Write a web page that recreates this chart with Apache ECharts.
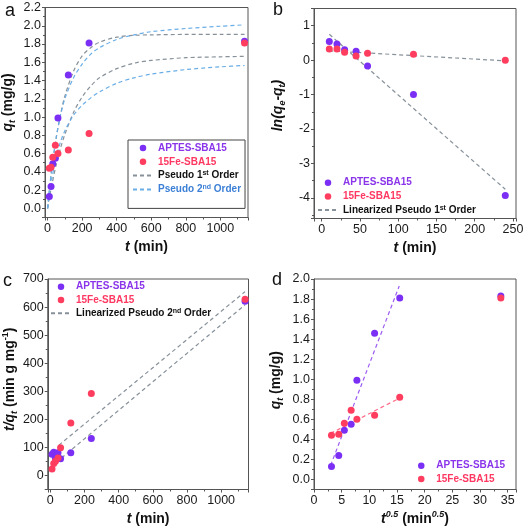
<!DOCTYPE html>
<html><head><meta charset="utf-8">
<script src="https://cdn.jsdelivr.net/npm/echarts@6/dist/echarts.min.js"></script>
<style>html,body{margin:0;padding:0;background:#fff}#c{width:530px;height:528px}</style>
</head><body><div id="c"></div>
<script>
// ---------- data ----------
const timeMin = [10, 20, 30, 45, 60, 120, 240, 1140];
const qtAPTES = [0.13, 0.24, 0.49, 0.55, 0.99, 1.46, 1.81, 1.83];
const qtFe = [0.44, 0.45, 0.56, 0.69, 0.60, 0.64, 0.82, 1.81];

const fitTime = [0, 10, 25, 50, 75, 100, 150, 200, 250, 300, 400, 500, 600, 800, 1000, 1140];
const pfoAPTES = [0, 0.19, 0.44, 0.77, 1.03, 1.23, 1.50, 1.67, 1.76, 1.82, 1.875, 1.895, 1.90, 1.905, 1.905, 1.905];
const psoAPTES = [0, 0.20, 0.45, 0.78, 1.02, 1.20, 1.43, 1.58, 1.69, 1.76, 1.85, 1.90, 1.935, 1.97, 1.995, 2.01];
const pfoFe = [0, 0.11, 0.26, 0.48, 0.66, 0.81, 1.05, 1.22, 1.34, 1.43, 1.53, 1.59, 1.62, 1.65, 1.66, 1.665];
const psoFe = [0, 0.15, 0.33, 0.56, 0.73, 0.85, 1.02, 1.13, 1.21, 1.275, 1.37, 1.43, 1.47, 1.52, 1.55, 1.565];

const lnTime = [10, 20, 30, 45, 60, 120, 240];
const lnAPTES = [0.54, 0.47, 0.30, 0.26, -0.17, -1.00, -3.93];
const lnFe = [0.32, 0.32, 0.23, 0.12, 0.20, 0.17, 0.00];
const lnFitTime = [10, 240];
const lnFitAPTES = [0.75, -3.75];
const lnFitFe = [0.27, -0.02];

const tqAPTES = [76, 83, 61, 81, 60, 81, 132, 621];
const tqFe = [23, 43, 51, 62, 99, 187, 292, 628];
const tqFitTimeA = [50, 1140];
const tqFitA = [108, 655];
const tqFitTimeB = [65, 1140];
const tqFitB = [62, 608];

const sqrtTime = [3.16, 4.47, 5.48, 6.71, 7.75, 10.95, 15.49, 33.76];
const ipdFitX = [3.0, 15.4];
const ipdAPTES = [0.14, 1.93];
const ipdFe = [0.46, 0.81];

// ---------- styling ----------
const FONT = "'Liberation Sans', Arial, Helvetica, sans-serif";
const AX = '#555';
const PURPLE = '#7B2FF5', PINK = '#FF3D5E';
const PURPLE_TXT = '#8A35EA', PINK_TXT = '#FF3862', BLUE_TXT = '#3C7FD6';
const GRAY = '#87919a', LBLUE = '#6aaee6';
const PURPLE_LN = '#9C5CF2', PINK_LN = '#FF6B88';

const zip = (xs, ys) => xs.map((x, i) => [x, ys[i]]);

function tok(extra) {
  return Object.assign({fontFamily: FONT, fontSize: 14, fontWeight: 'bold', color: '#111', lineHeight: 18}, extra);
}
const nameRich = {
  n: tok({}),
  i: tok({fontStyle: 'italic'}),
  sub: tok({fontSize: 9, fontStyle: 'italic', lineHeight: 9, verticalAlign: 'bottom'}),
  sup: tok({fontSize: 9, lineHeight: 8, verticalAlign: 'top'}),
  supi: tok({fontSize: 9, fontStyle: 'italic', lineHeight: 8, verticalAlign: 'top'})
};

const plain = v => String(v);
function axis(o) {
  const base = {
    nameLocation: 'middle',
    nameTextStyle: {rich: nameRich},
    axisLine: {show: true, onZero: false, lineStyle: {color: AX, width: 1}},
    axisTick: {show: true, length: 3, lineStyle: {color: AX}},
    minorTick: {show: true, splitNumber: 2, length: 2, lineStyle: {color: AX}},
    splitLine: {show: false},
    minorSplitLine: {show: false},
    axisLabel: {fontFamily: FONT, fontSize: 12.5, color: '#1a1a1a', margin: 5, formatter: plain,
      showMinLabel: false, showMaxLabel: false}
  };
  const r = Object.assign({}, base, o);
  if (o.axisLabel) r.axisLabel = Object.assign({}, base.axisLabel, o.axisLabel);
  if (o.nameTextStyle) r.nameTextStyle = Object.assign({}, base.nameTextStyle, o.nameTextStyle);
  return r;
}
const f1 = v => v.toFixed(1);

function legendText(color) {
  return {fontFamily: FONT, fontSize: 10, fontWeight: 'bold', color: color, lineHeight: 12,
    rich: {sup: {fontFamily: FONT, fontSize: 7, fontWeight: 'bold', color: color, lineHeight: 7, verticalAlign: 'top'}}};
}
const legFmt = n => n.replace(/(\d)(st|nd)/, '$1{sup|$2}');
const lineItem = (name, color) => ({name: name, textStyle: legendText(color), itemStyle: {opacity: 0}});
const dotItem = (name, color) => ({name: name, textStyle: legendText(color)});
const legBase = {orient: 'vertical', itemWidth: 20, itemHeight: 6.5, selectedMode: false, formatter: legFmt, padding: 0};

const scat = (name, xi, data, color) => ({type: 'scatter', name: name, xAxisIndex: xi, yAxisIndex: xi,
  data: data, symbolSize: 7, itemStyle: {color: color, opacity: 1}, z: 5, silent: true});
const dline = (name, xi, data, color, smooth) => ({type: 'line', name: name, xAxisIndex: xi, yAxisIndex: xi,
  data: data, symbol: 'none', smooth: smooth ? 0.3 : false, color: color,
  lineStyle: {color: color, width: 1.2, type: [4, 3]}, z: 3, silent: true});

const option = {
  animation: false,
  backgroundColor: '#fff',
  grid: [
    {left: 45, top: 7.5, width: 203, height: 210, show: true, borderColor: AX, borderWidth: 1},
    {left: 314, top: 8.5, width: 202, height: 210, show: true, borderColor: AX, borderWidth: 1},
    {left: 45, top: 279, width: 203.5, height: 210.5, show: true, borderColor: AX, borderWidth: 1},
    {left: 314, top: 279, width: 202, height: 210.5, show: true, borderColor: AX, borderWidth: 1}
  ],
  xAxis: [
    axis({gridIndex: 0, type: 'value', min: -15, max: 1160, splitNumber: 5,
      name: '{i|t}{n| (min)}', nameGap: 21}),
    axis({gridIndex: 1, type: 'value', min: -10, max: 254, splitNumber: 5,
      name: '{i|t}{n| (min)}', nameGap: 21}),
    axis({gridIndex: 2, type: 'value', min: -15, max: 1160, splitNumber: 5,
      name: '{i|t}{n| (min)}', nameGap: 21}),
    axis({gridIndex: 3, type: 'value', min: 0, max: 36.5, interval: 5,
      name: '{i|t}{supi|0.5}{n| (min}{supi|0.5}{n|)}', nameGap: 21,
      axisLabel: {showMinLabel: true}})
  ],
  yAxis: [
    axis({gridIndex: 0, type: 'value', min: -0.1, max: 2.2, splitNumber: 10,
      name: '{i|q}{sub|t}{n| (mg/g)}', nameGap: 28, nameTextStyle: {padding: [0, 0, 0, 20]},
      axisLabel: {formatter: f1, showMaxLabel: true, margin: 4}}),
    axis({gridIndex: 1, type: 'value', min: -4.6, max: 1.5, splitNumber: 5,
      name: '{i|ln(q}{sub|e}{i|-q}{sub|t}{i|)}', nameGap: 27, nameTextStyle: {padding: [0, 0, 0, 16]},
      axisLabel: {margin: 4}}),
    axis({gridIndex: 2, type: 'value', min: -50, max: 700, splitNumber: 7,
      name: '{i|t/q}{sub|t}{n| (min g mg}{sup|-1}{n|)}', nameGap: 27, nameTextStyle: {padding: [0, 0, 0, 10]},
      axisLabel: {showMaxLabel: true, margin: 4}}),
    axis({gridIndex: 3, type: 'value', min: -0.1, max: 2.0, splitNumber: 10,
      name: '{i|q}{sub|t}{n| (mg/g)}', nameGap: 29, nameTextStyle: {padding: [0, 0, 0, 8]},
      axisLabel: {formatter: f1, showMaxLabel: true, margin: 4}})
  ],
  legend: [
    Object.assign({}, legBase, {left: 128, top: 140, padding: [2, 4, 13, 4], itemGap: 1.8,
      borderColor: '#444', borderWidth: 1, backgroundColor: '#fff',
      data: [dotItem('APTES-SBA15', PURPLE_TXT), dotItem('15Fe-SBA15', PINK_TXT),
             lineItem('Pseudo 1st Order', '#111'), lineItem('Pseudo 2nd Order', BLUE_TXT)]}),
    Object.assign({}, legBase, {left: 317, top: 176.7, itemGap: 1.7,
      data: [dotItem('APTES-SBA15', PURPLE_TXT), dotItem('15Fe-SBA15', PINK_TXT),
             lineItem('Linearized Pseudo 1st Order', '#111')]}),
    Object.assign({}, legBase, {left: 50, top: 280.7, itemGap: 1.3,
      data: [dotItem('APTES-SBA15', PURPLE_TXT), dotItem('15Fe-SBA15', PINK_TXT),
             lineItem('Linearized Pseudo 2nd Order', '#111')]}),
    Object.assign({}, legBase, {left: 418, top: 459.7, itemGap: 1.3,
      data: [dotItem('APTES-SBA15', PURPLE_TXT), dotItem('15Fe-SBA15', PINK_TXT)]})
  ],
  graphic: [
    {type: 'text', left: 5, top: 2, style: {text: 'a', fontFamily: FONT, fontSize: 18, fill: '#111'}},
    {type: 'text', left: 273, top: 1.5, style: {text: 'b', fontFamily: FONT, fontSize: 18, fill: '#111'}},
    {type: 'text', left: 3, top: 272.5, style: {text: 'c', fontFamily: FONT, fontSize: 18, fill: '#111'}},
    {type: 'text', left: 272, top: 271.5, style: {text: 'd', fontFamily: FONT, fontSize: 18, fill: '#111'}}
  ],
  series: [
    // panel a
    dline('Pseudo 1st Order', 0, zip(fitTime, pfoAPTES), GRAY, true),
    dline('Pseudo 1st Order', 0, zip(fitTime, pfoFe), GRAY, true),
    dline('Pseudo 2nd Order', 0, zip(fitTime, psoAPTES), LBLUE, true),
    dline('Pseudo 2nd Order', 0, zip(fitTime, psoFe), LBLUE, true),
    scat('APTES-SBA15', 0, zip(timeMin, qtAPTES), PURPLE),
    scat('15Fe-SBA15', 0, zip(timeMin, qtFe), PINK),
    // panel b
    dline('Linearized Pseudo 1st Order', 1, zip(lnFitTime, lnFitAPTES), GRAY, false),
    dline('Linearized Pseudo 1st Order', 1, zip(lnFitTime, lnFitFe), GRAY, false),
    scat('APTES-SBA15', 1, zip(lnTime, lnAPTES), PURPLE),
    scat('15Fe-SBA15', 1, zip(lnTime, lnFe), PINK),
    // panel c
    dline('Linearized Pseudo 2nd Order', 2, zip(tqFitTimeA, tqFitA), GRAY, false),
    dline('Linearized Pseudo 2nd Order', 2, zip(tqFitTimeB, tqFitB), GRAY, false),
    scat('APTES-SBA15', 2, zip(timeMin, tqAPTES), PURPLE),
    scat('15Fe-SBA15', 2, zip(timeMin, tqFe), PINK),
    // panel d
    dline('IPD APTES', 3, zip(ipdFitX, ipdAPTES), PURPLE_LN, false),
    dline('IPD 15Fe', 3, zip(ipdFitX, ipdFe), PINK_LN, false),
    scat('APTES-SBA15', 3, zip(sqrtTime, qtAPTES), PURPLE),
    scat('15Fe-SBA15', 3, zip(sqrtTime, qtFe), PINK)
  ]
};
const chart = echarts.init(document.getElementById('c'), null, {renderer: 'canvas'});
chart.setOption(option);
</script>
</body></html>
